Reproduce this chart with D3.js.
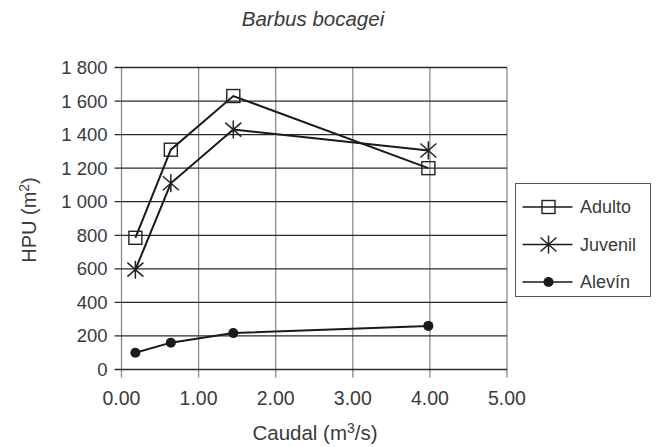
<!DOCTYPE html>
<html>
<head>
<meta charset="utf-8">
<script src="https://cdn.jsdelivr.net/npm/d3@7"></script>
<style>
  body { margin: 0; background: #fff; }
  text { font-family: "Liberation Sans", Arial, sans-serif; fill: #3a3a3a; }
</style>
</head>
<body>
<div id="chart"></div>
<script>
// data
var caudal = [0.18, 0.64, 1.45, 3.98];
var adulto = [785, 1310, 1630, 1200];
var juvenil = [595, 1110, 1430, 1305];
var alevin = [100, 160, 217, 260];
var seriesNames = ["Adulto", "Juvenil", "Alevín"];
var seriesMarkers = ["square", "star", "dot"];
var xTicks = [0, 1, 2, 3, 4, 5];
var yTicks = [0, 200, 400, 600, 800, 1000, 1200, 1400, 1600, 1800];

var W = 660, H = 447;
var plotL = 121.5, plotR = 507, plotT = 67.5, plotB = 369.5;

var svg = d3.select("#chart").append("svg")
    .attr("width", W)
    .attr("height", H);

var x = d3.scaleLinear().domain([0, 5]).range([plotL, plotR]);
var y = d3.scaleLinear().domain([0, 1800]).range([plotB, plotT]);

var loc = d3.formatLocale({decimal: ".", thousands: "\u00a0", grouping: [3], currency: ["", ""]});
var fmtY = loc.format(",");
var fmtX = d3.format(".2f");

// gridlines
svg.append("g")
  .selectAll("line")
  .data(xTicks)
  .join("line")
    .attr("x1", function(d) { return x(d); })
    .attr("x2", function(d) { return x(d); })
    .attr("y1", plotT)
    .attr("y2", plotB + 8)
    .attr("stroke", "#8a8a8a")
    .attr("stroke-width", 1.3);

svg.append("g")
  .selectAll("line")
  .data(yTicks)
  .join("line")
    .attr("x1", plotL - 7)
    .attr("x2", plotR)
    .attr("y1", function(d) { return y(d); })
    .attr("y2", function(d) { return y(d); })
    .attr("stroke", "#2a2a2a")
    .attr("stroke-width", 1.3);

// tick labels
svg.append("g")
  .selectAll("text")
  .data(yTicks)
  .join("text")
    .attr("x", plotL - 14)
    .attr("y", function(d) { return y(d); })
    .attr("dy", "0.35em")
    .attr("text-anchor", "end")
    .style("font-size", "18.5px")
    .text(function(d) { return fmtY(d); });

svg.append("g")
  .selectAll("text")
  .data(xTicks)
  .join("text")
    .attr("x", function(d) { return x(d); })
    .attr("y", 405)
    .attr("text-anchor", "middle")
    .style("font-size", "19.5px")
    .text(function(d) { return fmtX(d); });

// titles
svg.append("text")
  .attr("x", 313)
  .attr("y", 26)
  .attr("text-anchor", "middle")
  .style("font-size", "20.5px")
  .style("font-style", "italic")
  .text("Barbus bocagei");

var xl = svg.append("text")
  .attr("x", 315)
  .attr("y", 440)
  .attr("text-anchor", "middle")
  .style("font-size", "20.5px");
xl.append("tspan").text("Caudal (m");
xl.append("tspan").attr("dy", -7).style("font-size", "14px").text("3");
xl.append("tspan").attr("dy", 7).text("/s)");

var yl = svg.append("text")
  .attr("transform", "translate(36,220) rotate(-90)")
  .attr("text-anchor", "middle")
  .style("font-size", "20px");
yl.append("tspan").text("HPU (m");
yl.append("tspan").attr("dy", -7).style("font-size", "14px").text("2");
yl.append("tspan").attr("dy", 7).text(")");

// markers
function drawMarker(g, type) {
  if (type === "square") {
    g.append("rect")
      .attr("x", -6.5).attr("y", -6.5)
      .attr("width", 13).attr("height", 13)
      .attr("fill", "none")
      .attr("stroke", "#222")
      .attr("stroke-width", 1.4);
  } else if (type === "star") {
    var p = "M0,-9L0,9M-8,-7L8,7M-8,7L8,-7";
    g.append("path")
      .attr("d", p)
      .attr("stroke", "#222")
      .attr("stroke-width", 1.5)
      .attr("fill", "none");
  } else {
    g.append("circle")
      .attr("r", 5)
      .attr("fill", "#1a1a1a");
  }
}

var allValues = [adulto, juvenil, alevin];
var line = d3.line()
  .x(function(d, i) { return x(caudal[i]); })
  .y(function(d) { return y(d); });

allValues.forEach(function(vals, si) {
  svg.append("path")
    .datum(vals)
    .attr("d", line)
    .attr("fill", "none")
    .attr("stroke", "#1a1a1a")
    .attr("stroke-width", 2);

  vals.forEach(function(v, i) {
    var g = svg.append("g")
      .attr("transform", "translate(" + x(caudal[i]) + "," + y(v) + ")");
    drawMarker(g, seriesMarkers[si]);
  });
});

// legend
var legend = svg.append("g");
legend.append("rect")
  .attr("x", 515.5)
  .attr("y", 183.5)
  .attr("width", 135)
  .attr("height", 113)
  .attr("fill", "#fff")
  .attr("stroke", "#555")
  .attr("stroke-width", 1);

var rowY = [207, 244.5, 282];
seriesNames.forEach(function(name, i) {
  var row = legend.append("g").attr("transform", "translate(0," + rowY[i] + ")");
  row.append("line")
    .attr("x1", 522.5).attr("x2", 572.5)
    .attr("y1", 0).attr("y2", 0)
    .attr("stroke", "#1a1a1a")
    .attr("stroke-width", 1.6);
  var m = row.append("g").attr("transform", "translate(548.5,0)");
  drawMarker(m, seriesMarkers[i]);
  row.append("text")
    .attr("x", 580)
    .attr("y", 0)
    .attr("dy", "0.35em")
    .style("font-size", "18px")
    .text(name);
});
</script>
</body>
</html>
